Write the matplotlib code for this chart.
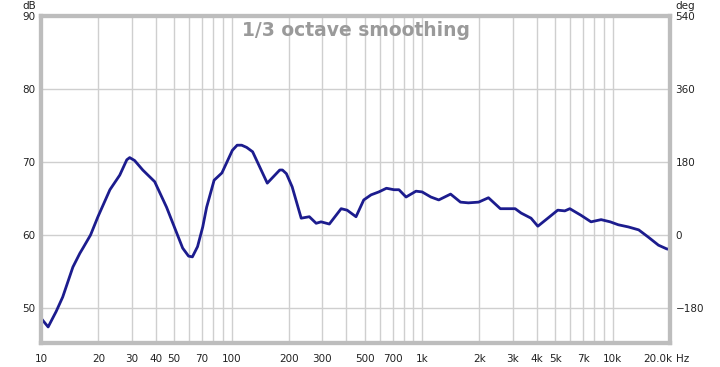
import numpy as np
import matplotlib
matplotlib.use('Agg')
import matplotlib.pyplot as plt
from matplotlib.ticker import FixedLocator, NullFormatter

# Frequency response (Hz, dB)
freq = [10, 10.9, 12.0, 13.0, 14.7, 16.0, 16.6, 18.2, 19.9, 23.0, 25.9, 28.2,
        29.2, 31.0, 34.2, 39.5, 45.6, 51.5, 55.4, 59.5, 62.3, 66.3, 70.6, 74,
        81, 89, 101, 107, 113, 120, 129, 154, 179, 185, 194, 208, 232, 256,
        278, 295, 326, 376, 404, 450, 494, 540, 593, 650, 712, 756, 824, 929,
        1000, 1112, 1223, 1411, 1590, 1750, 1980, 2230, 2574, 3080, 3310,
        3730, 4050, 4570, 5150, 5610, 5960, 6820, 7700, 8700, 9710, 10700,
        12100, 13700, 15400, 17400, 19200, 20000]
spl = [48.6, 47.4, 49.5, 51.5, 55.6, 57.5, 58.2, 60.0, 62.5, 66.2, 68.2, 70.3,
       70.6, 70.2, 68.9, 67.3, 63.8, 60.3, 58.2, 57.1, 57.0, 58.4, 61.1, 63.8,
       67.5, 68.5, 71.6, 72.3, 72.3, 72.0, 71.4, 67.1, 68.9, 68.9, 68.4, 66.6,
       62.3, 62.5, 61.6, 61.8, 61.5, 63.6, 63.4, 62.5, 64.8, 65.5, 65.9, 66.4,
       66.2, 66.2, 65.2, 66.0, 65.9, 65.2, 64.8, 65.6, 64.5, 64.4, 64.5, 65.1,
       63.6, 63.6, 63.0, 62.3, 61.2, 62.3, 63.4, 63.3, 63.6, 62.7, 61.8, 62.1,
       61.8, 61.4, 61.1, 60.7, 59.7, 58.6, 58.1, 58.0]

xticks = [10, 20, 30, 40, 50, 70, 100, 200, 300, 500, 700, 1000, 2000, 3000,
          4000, 5000, 7000, 10000]
xlabels = ['10', '20', '30', '40', '50', '70', '100', '200', '300', '500', '700',
           '1k', '2k', '3k', '4k', '5k', '7k', '10k']
yticks = [50, 60, 70, 80, 90]
degticks = [-180, 0, 180, 360, 540]

fig = plt.figure(figsize=(7.2, 3.67), dpi=100)
ax = fig.add_axes([41/720, 1-343/367, 629/720, 327/367])

ax.semilogx(freq, spl, color='#1c1c8e', lw=2.0, zorder=3, solid_joinstyle='round')
ax.set_xlim(10, 20000)
ax.set_ylim(45.2, 90)

gridf = [m * 10**e for e in range(1, 5) for m in range(1, 10)] + [20000]
ax.xaxis.set_major_locator(FixedLocator(gridf))
ax.xaxis.set_minor_locator(FixedLocator([]))
ax.xaxis.set_major_formatter(NullFormatter())
ax.grid(True, which='major', color='#cfcfcf', lw=1)
ax.set_yticks(yticks)
ax.tick_params(length=0, labelsize=7.5, colors='#222222', pad=4)

for f, lab in zip(xticks, xlabels):
    ax.text(f, -0.035, lab, transform=ax.get_xaxis_transform(), ha='center',
            va='top', fontsize=7.5, color='#222222')
ax.text(1.003, -0.035, '20.0k', transform=ax.transAxes, ha='right', va='top',
        fontsize=7.5, color='#222222')
ax.text(1.009, -0.035, 'Hz', transform=ax.transAxes, ha='left', va='top',
        fontsize=7.5, color='#222222')

ax2 = ax.twinx()
ax2.set_ylim((45.2-60)*18, (90-60)*18)
ax2.set_yticks(degticks)
ax2.tick_params(length=0, labelsize=7.5, colors='#222222', pad=4)

for a in (ax, ax2):
    for s in a.spines.values():
        s.set_color('#bdbdbd')
        s.set_linewidth(3)

fig.text(29/720, 1-6/367, 'dB', ha='center', va='center', fontsize=7.5, color='#222222')
fig.text(685/720, 1-6/367, 'deg', ha='center', va='center', fontsize=7.5, color='#222222')

ax.text(0.5, 0.985, '1/3 octave smoothing', transform=ax.transAxes, ha='center',
        va='top', fontsize=13.5, fontweight='bold', color='#9a9a9a')

fig.savefig('out.png', dpi=100)
